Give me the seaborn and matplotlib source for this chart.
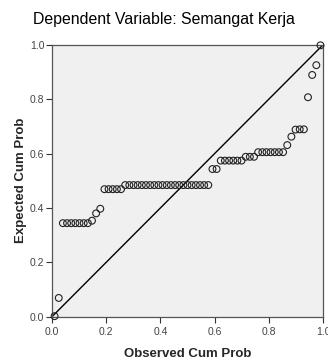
import matplotlib
matplotlib.use("Agg")
import matplotlib.pyplot as plt
import seaborn as sns
import pandas as pd

# Observed cumulative probability (one value per case)
observed = [0.0096, 0.0249, 0.0402, 0.0556, 0.0709, 0.0862, 0.1015, 0.1169,
            0.1322, 0.1475, 0.1628, 0.1782, 0.1935, 0.2088, 0.2241, 0.2395,
            0.2548, 0.2701, 0.2854, 0.3008, 0.3161, 0.3314, 0.3467, 0.3621,
            0.3774, 0.3927, 0.4080, 0.4234, 0.4387, 0.4540, 0.4693, 0.4847,
            0.5000, 0.5153, 0.5307, 0.5460, 0.5613, 0.5766, 0.5920, 0.6073,
            0.6226, 0.6379, 0.6533, 0.6686, 0.6839, 0.6992, 0.7146, 0.7299,
            0.7452, 0.7605, 0.7759, 0.7912, 0.8065, 0.8218, 0.8372, 0.8525,
            0.8678, 0.8831, 0.8985, 0.9138, 0.9291, 0.9444, 0.9598, 0.9751,
            0.9904]

# Expected cumulative probability
expected = [0.002, 0.069, 0.344, 0.344, 0.344, 0.344, 0.344, 0.344,
            0.344, 0.353, 0.380, 0.397, 0.469, 0.469, 0.469, 0.469,
            0.469, 0.484, 0.484, 0.484, 0.484, 0.484, 0.484, 0.484,
            0.484, 0.484, 0.484, 0.484, 0.484, 0.484, 0.484, 0.484,
            0.484, 0.484, 0.484, 0.484, 0.484, 0.484, 0.543, 0.543,
            0.574, 0.574, 0.574, 0.574, 0.574, 0.574, 0.588, 0.588,
            0.588, 0.605, 0.605, 0.605, 0.605, 0.605, 0.605, 0.605,
            0.631, 0.662, 0.688, 0.689, 0.689, 0.807, 0.889, 0.925,
            0.998]

ticks = [0.0, 0.2, 0.4, 0.6, 0.8, 1.0]
tick_labels = ["0.0", "0.2", "0.4", "0.6", "0.8", "1.0"]


def main():
    df = pd.DataFrame({"observed": observed, "expected": expected})

    sns.set_style("white")
    plt.rcParams["font.family"] = ["Liberation Sans", "DejaVu Sans"]

    fig = plt.figure(figsize=(3.28, 3.61), dpi=100)
    ax = fig.add_axes([0.1585, 0.1227, 0.8265, 0.7533])
    ax.set_facecolor("#f0f0f0")

    # reference line
    ax.plot([0, 1], [0, 1], color="black", linewidth=1.0, zorder=2)

    sns.scatterplot(data=df, x="observed", y="expected", ax=ax,
                    marker="o", s=24, facecolor="none",
                    edgecolor="#222222", linewidth=0.8, zorder=3,
                    clip_on=False)

    ax.set_xlim(0, 1)
    ax.set_ylim(0, 1)
    ax.set_xticks(ticks)
    ax.set_xticklabels(tick_labels)
    ax.set_yticks(ticks)
    ax.set_yticklabels(tick_labels)
    ax.tick_params(axis="both", direction="out", length=4, width=0.8,
                   color="#333333", labelsize=7.5, labelcolor="#444444",
                   pad=1.5, bottom=True, left=True)
    ax.tick_params(axis="x", pad=3.5)

    for spine in ax.spines.values():
        spine.set_color("#555555")
        spine.set_linewidth(0.9)

    ax.set_xlabel("Observed Cum Prob", fontsize=9.5, fontweight="bold",
                  labelpad=7.5)
    ax.set_ylabel("Expected Cum Prob", fontsize=9.5, fontweight="bold",
                  labelpad=2)

    fig.suptitle("Dependent Variable: Semangat Kerja", x=0.5, y=0.945,
                 fontsize=11.4, va="center", color="black")

    fig.savefig("out.png", dpi=100, facecolor="white")


if __name__ == "__main__":
    main()
